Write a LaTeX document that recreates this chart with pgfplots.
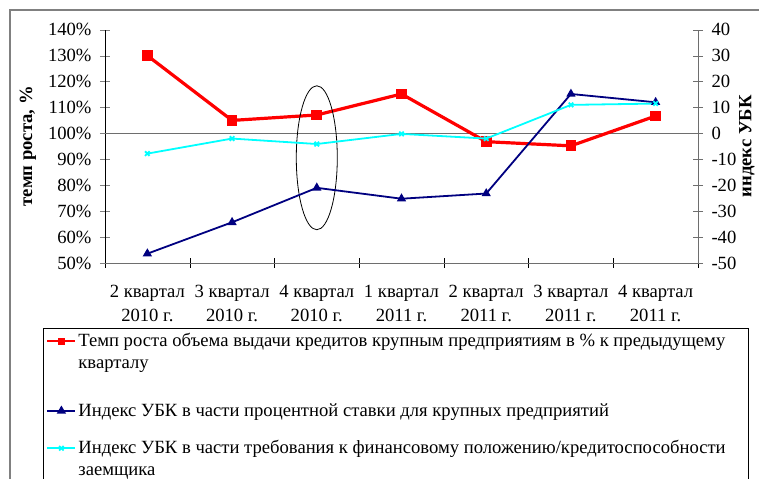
\documentclass[border=0pt]{standalone}
\usepackage{fontspec}
\setmainfont{Liberation Serif}
\usepackage{pgfplots}
\pgfplotsset{compat=1.18}
\definecolor{cnavy}{RGB}{0,0,128}
\definecolor{ccyan}{RGB}{0,255,255}
\definecolor{cred}{RGB}{255,0,0}
\definecolor{cgrid}{RGB}{110,110,110}
\pgfplotsset{
  base/.style={
    at={(105bp,216bp)}, anchor=south west, scale only axis,
    width=593bp, height=233.3bp,
    xmin=0, xmax=7,
    tick align=center, major tick length=10bp, minor tick length=10bp,
    /pgf/number format/assume math mode=true,
    tick label style={font=\fontsize{18.7}{24}\selectfont},
  }
}
\begin{document}
\begin{tikzpicture}[font=\fontsize{18.7}{22}\selectfont]
\useasboundingbox (0,0) rectangle (759bp,479bp);
\draw[gray, line width=1.2bp] (10bp,-20bp) -- (10bp,469bp) -- (790bp,469bp);
\begin{axis}[base,
  ymin=50, ymax=140, ytick={50,60,...,140},
  yticklabel={\pgfmathprintnumber{\tick}\%},
  yticklabel style={xshift=-5bp},
  axis x line*=bottom, axis y line*=left,
  x axis line style={cgrid}, y axis line style={black},
  xtick={0.5,1.5,...,6.5},
  xticklabels={{2 квартал\\2010 г.},{3 квартал\\2010 г.},{4 квартал\\2010 г.},{1 квартал\\2011 г.},{2 квартал\\2011 г.},{3 квартал\\2011 г.},{4 квартал\\2011 г.}},
  xticklabel style={align=center, yshift=-14bp},
  major x tick style={draw=none},
  minor xtick={0,1,...,7},
  minor x tick style={black},
  ylabel={темп роста, \%},
  clip=false,
  every axis y label/.style={at={(axis description cs:-0.1298,0.5)}, anchor=center, rotate=90, font=\bfseries\fontsize{18.7}{22}\selectfont},
]
\draw[cgrid, line width=1bp] (axis cs:0,100) -- (axis cs:7,100);
\addplot[cred, line width=3.2bp, mark=square*, mark size=3.8bp, mark options={solid}]
  coordinates {(0.5,130) (1.5,105) (2.5,107.1) (3.5,115.2) (4.5,96.8) (5.5,95.2) (6.5,106.7)};
\draw[black, line width=0.8bp] (axis cs:2.5,90.6) ellipse [x radius=20.5bp, y radius=72bp];
\end{axis}
\begin{axis}[base,
  ymin=-50, ymax=40, ytick={-50,-40,...,40},
  axis x line=none, axis y line*=right,
  y axis line style={cgrid},
  ytick style={cgrid},
  yticklabel style={xshift=5bp},
  ylabel={индекс УБК},
  clip=false,
  legend cell align=left,
  legend style={at={(axis description cs:-0.10455,-0.2786)}, anchor=north west,
    draw=black, line width=0.8bp, inner xsep=3bp, inner ysep=3bp,
    row sep=0bp,
    cells={anchor=base west},
    nodes={inner sep=2bp, text depth=},
    font=\fontsize{18.7}{22}\selectfont},
  legend image code/.code={\draw[mark repeat=2, mark phase=2, #1] plot coordinates {(0bp,5.5bp) (14bp,5.5bp) (28bp,5.5bp)};},
  every axis y label/.style={at={(axis description cs:1.0826,0.5)}, anchor=center, rotate=90, font=\bfseries\fontsize{18.7}{22}\selectfont},
]
\addlegendimage{cred, line width=2bp, mark=square*, mark size=2.5bp}
\addlegendentry{\parbox[t]{665bp}{Темп роста объема выдачи кредитов крупным предприятиям в \% к предыдущему\\кварталу\rule[-31bp]{0pt}{0pt}}}
\addplot[cnavy, line width=1.8bp, mark=triangle*, mark size=3.6bp]
  coordinates {(0.5,-46.4) (1.5,-34.3) (2.5,-21) (3.5,-25.2) (4.5,-23.2) (5.5,15.2) (6.5,12)};
\addlegendentry{\parbox[t]{665bp}{Индекс УБК в части процентной ставки для крупных предприятий\rule[-20bp]{0pt}{0pt}}}
\addplot[ccyan, line width=1.8bp, mark=x, mark size=3.2bp]
  coordinates {(0.5,-7.8) (1.5,-2) (2.5,-4.1) (3.5,-0.2) (4.5,-2) (5.5,11) (6.5,11.5)};
\addlegendentry{\parbox[t]{665bp}{Индекс УБК в части требования к финансовому положению/кредитоспособности\\заемщика}}
\end{axis}
\end{tikzpicture}
\end{document}
